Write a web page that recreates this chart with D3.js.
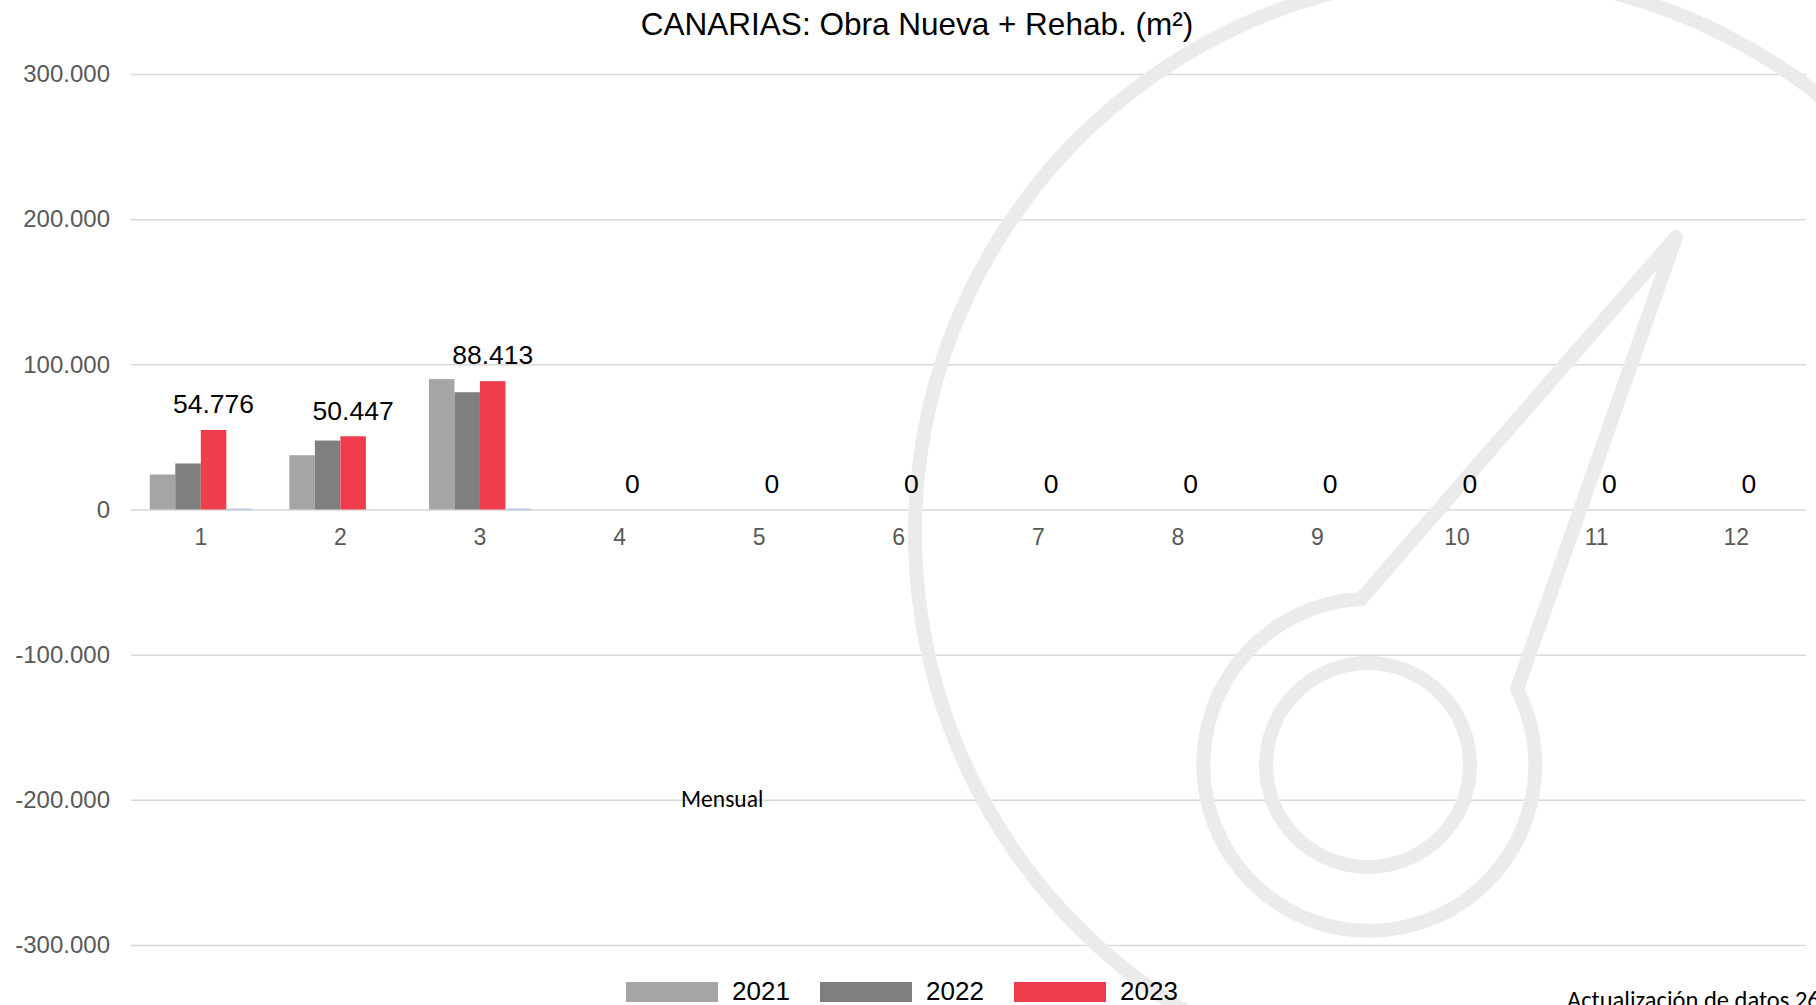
<!DOCTYPE html>
<html>
<head>
<meta charset="utf-8">
<script src="https://cdn.jsdelivr.net/npm/d3@7"></script>
<style>
  body { margin: 0; background: #fff; overflow: hidden; }
  svg { display: block; }
</style>
</head>
<body>
<div id="chart"></div>
<script>
// datos (m2 mensuales)
const meses = ["1", "2", "3", "4", "5", "6", "7", "8", "9", "10", "11", "12"];
const anios = ["2021", "2022", "2023"];
const valores2021 = [24100, 37400, 89800, null, null, null, null, null, null, null, null, null];
const valores2022 = [31700, 47500, 80800, null, null, null, null, null, null, null, null, null];
const valores2023 = [54776, 50447, 88413, 0, 0, 0, 0, 0, 0, 0, 0, 0];
const valoresExtra = [600, null, 600, null, null, null, null, null, null, null, null, null];
const yTicks = [-300000, -200000, -100000, 0, 100000, 200000, 300000];

const colores = { "2021": "#a5a5a5", "2022": "#7f7f7f", "2023": "#ef3d4e", "extra": "#b4c7e7" };

const width = 1816, height = 1005;
const margin = { left: 131, right: 10, top: 74, bottom: 60 };

const svg = d3.select("#chart").append("svg")
    .attr("width", width)
    .attr("height", height);

const x0 = d3.scaleBand()
    .domain(meses)
    .range([margin.left, width - margin.right])
    .paddingInner(0.269)
    .paddingOuter(0.1345);

const series = ["2021", "2022", "2023", "extra"];
const x1 = d3.scaleBand()
    .domain(series)
    .range([0, x0.bandwidth()]);

const y = d3.scaleLinear()
    .domain([-300000, 300000])
    .range([945, 74]);

const es = d3.formatLocale({ decimal: ",", thousands: ".", grouping: [3], currency: ["", "€"], minus: "-" });
const fmt = es.format(",d");

// rejilla + etiquetas eje Y
const yAxis = svg.append("g")
    .attr("transform", "translate(" + margin.left + ",0)")
    .call(d3.axisLeft(y).tickValues(yTicks).tickFormat(fmt)
        .tickSize(-(width - margin.right - margin.left)).tickPadding(21));
yAxis.select(".domain").remove();
yAxis.selectAll(".tick line").attr("stroke", "#d9d9d9").attr("stroke-width", 1.5);
yAxis.selectAll(".tick text")
    .attr("fill", "#595959")
    .style("font-family", "'Liberation Sans', Arial, sans-serif")
    .style("font-size", "24px");

// marca de agua (logo)
const wm = svg.append("g").attr("fill", "none").attr("stroke", "#ebebeb").attr("stroke-width", 14);
const cx = 1473, cy = 533, r = 558;
const a0 = 110 * Math.PI / 180, a1 = 0;
wm.append("path")
    .attr("d", "M" + (cx + r * Math.cos(a0)) + "," + (cy + r * Math.sin(a0)) +
        " A" + r + "," + r + " 0 1 1 " + (cx + r * Math.cos(a1)) + "," + (cy + r * Math.sin(a1)));
wm.append("path")
    .attr("stroke-linejoin", "round")
    .attr("d", "M1676,237 L1361,599 A166,166 0 1 0 1517,689 Z");
wm.append("circle").attr("cx", 1368).attr("cy", 765).attr("r", 102);

// barras
const datos = meses.map((m, i) => ({
    mes: m,
    valores: [
        { serie: "2021", v: valores2021[i] },
        { serie: "2022", v: valores2022[i] },
        { serie: "2023", v: valores2023[i] },
        { serie: "extra", v: valoresExtra[i] }
    ]
}));

const grupos = svg.append("g").selectAll("g")
    .data(datos)
    .join("g")
    .attr("transform", d => "translate(" + x0(d.mes) + ",0)");

grupos.selectAll("rect")
    .data(d => d.valores.filter(e => e.v !== null && e.v > 0))
    .join("rect")
    .attr("x", d => x1(d.serie))
    .attr("width", x1.bandwidth())
    .attr("y", d => y(d.v))
    .attr("height", d => Math.max(1.5, y(0) - y(d.v)))
    .attr("fill", d => colores[d.serie]);

// eje X
const xAxis = svg.append("g")
    .attr("transform", "translate(0," + y(0) + ")")
    .call(d3.axisBottom(x0).tickSize(0).tickPadding(19));
xAxis.select(".domain").remove();
xAxis.selectAll(".tick text")
    .attr("fill", "#595959")
    .style("font-family", "'Liberation Sans', Arial, sans-serif")
    .style("font-size", "23px");

// etiquetas de datos 2023
svg.append("g").selectAll("text")
    .data(meses.map((m, i) => ({ mes: m, v: valores2023[i] })))
    .join("text")
    .attr("x", d => x0(d.mes) + x1("2023") + x1.bandwidth() / 2)
    .attr("y", d => y(d.v) - 26)
    .attr("dy", "0.35em")
    .attr("text-anchor", "middle")
    .style("font-family", "'Liberation Sans', Arial, sans-serif")
    .style("font-size", "26.5px")
    .attr("fill", "#000")
    .text(d => fmt(d.v));

// titulo
svg.append("text")
    .attr("x", 917).attr("y", 24).attr("dy", "0.35em")
    .attr("text-anchor", "middle")
    .style("font-family", "'Liberation Sans', Arial, sans-serif")
    .style("font-size", "31.5px")
    .text("CANARIAS: Obra Nueva + Rehab. (m²)");

// textos sueltos
svg.append("text")
    .attr("x", 681).attr("y", 799).attr("dy", "0.35em")
    .style("font-family", "Carlito, Lato, 'Open Sans', sans-serif")
    .style("font-size", "23.5px")
    .text("Mensual");

svg.append("text")
    .attr("x", 1567).attr("y", 1008)
    .style("font-family", "Carlito, Lato, 'Open Sans', sans-serif")
    .style("font-size", "24.5px")
    .text("Actualización de datos 26/04/2023");

// leyenda
const leyX = [626, 820, 1014];
const leyenda = svg.append("g").selectAll("g")
    .data(anios)
    .join("g")
    .attr("transform", (d, i) => "translate(" + leyX[i] + ",982)");
leyenda.append("rect")
    .attr("width", 92).attr("height", 20)
    .attr("fill", d => colores[d]);
leyenda.append("text")
    .attr("x", 106).attr("y", 9).attr("dy", "0.35em")
    .style("font-family", "'Liberation Sans', Arial, sans-serif")
    .style("font-size", "26px")
    .text(d => d);
</script>
</body>
</html>
